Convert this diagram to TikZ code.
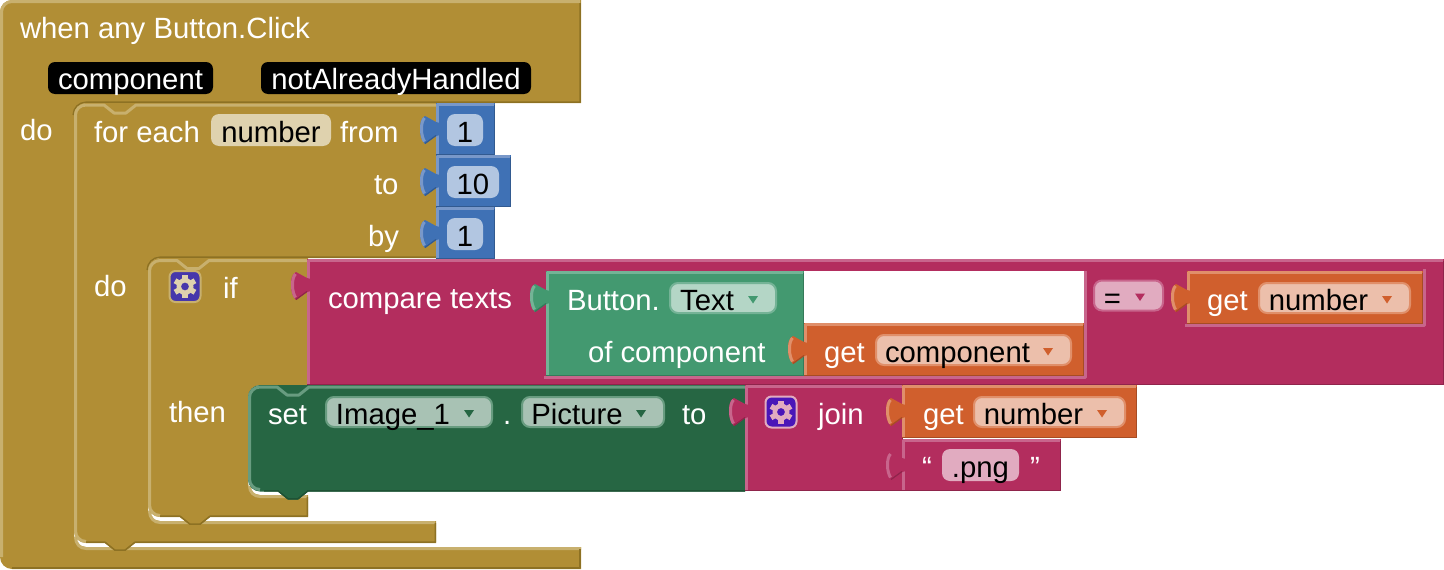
\documentclass[tikz,border=0pt]{standalone}
\usepackage{fontspec}
\setmainfont{Liberation Sans}
\usetikzlibrary{positioning}

\definecolor{goldmain}{HTML}{B18E35}
\definecolor{goldhi}{HTML}{C8B06E}
\definecolor{goldlo}{HTML}{8D7123}
\definecolor{goldfield}{HTML}{DFD2AE}
\definecolor{bluemain}{HTML}{3F71B5}
\definecolor{bluehi}{HTML}{7998C9}
\definecolor{bluelo}{HTML}{325A90}
\definecolor{bluefield}{HTML}{B2C6E1}
\definecolor{pinkmain}{HTML}{B32D5E}
\definecolor{pinkhi}{HTML}{C8658C}
\definecolor{pinklo}{HTML}{8F244B}
\definecolor{pinkfield}{HTML}{E1ABC0}
\definecolor{tealmain}{HTML}{439970}
\definecolor{tealhi}{HTML}{74B396}
\definecolor{teallo}{HTML}{357A59}
\definecolor{tealfield}{HTML}{B4D6C6}
\definecolor{greenmain}{HTML}{266643}
\definecolor{greenhi}{HTML}{689C80}
\definecolor{greenlo}{HTML}{1E5235}
\definecolor{greenfield}{HTML}{A8C2B4}
\definecolor{orangemain}{HTML}{D05F2D}
\definecolor{orangehi}{HTML}{E08F6A}
\definecolor{orangelo}{HTML}{A64C24}
\definecolor{orangefield}{HTML}{ECBFAB}
\definecolor{gearif}{HTML}{4637AB}
\definecolor{gearjoin}{HTML}{4A16B8}

\newcommand{\blockfont}{\fontsize{29.3}{32}\selectfont}
\newcommand{\ddgap}{\rule{32pt}{0pt}}

\tikzset{every node/.style={inner sep=0pt, outer sep=0pt, font=\blockfont},
         lbl/.style={anchor=base west, text=white},   % white words on the blocks
         blockhi/.style={draw=#1hi, line width=3pt, line join=round},
         blocklo/.style={draw=#1lo, line width=1.5pt, line join=round},
         pill/.style={rectangle, rounded corners=8pt, fill=#1field,
           text height=28.7pt, text depth=3.3pt},
         rimpill/.style={rectangle, rounded corners=8pt, fill=#1field, draw=#1hi,
           line width=2pt, text height=27.7pt, text depth=2.3pt},
         blackpill/.style={rectangle, rounded corners=7pt, fill=black, text=white,
           text height=27.8pt, text depth=4.2pt},
         iconbox/.style={rectangle, rounded corners=6pt, minimum size=31pt,
           line width=2pt},
         gearicon/.pic={
           \fill[even odd rule] (0,0) circle (8.5pt) (0,0) circle (4pt);
           \foreach \a in {0,60,...,300}
             \fill[rotate=\a] (-2.7,6) rectangle (2.7,11.5);
         }}

% one square block with its tab on the left: x0, y0, x1, y1, colour
\newcommand{\valblock}[5]{%
  \fill[#5main] (#1,#2) rectangle (#3,#4);
  \draw[blocklo=#5] (#3-0.75,#2+2) -- (#3-0.75,#4-0.75) -- (#1,#4-0.75);
  \draw[blockhi=#5] (#1+1.5,#4-1) -- (#1+1.5,#2+1.5) -- (#3-1,#2+1.5);
  \begin{scope}[shift={(#1,#2)}]
    \fill[#5main] (4,20) -- (0,19) -- (-11,13) .. controls (-15,15) and (-16,20) .. (-16,26)
      .. controls (-16,33) and (-14,38) .. (-11,41) -- (0,33) -- (4,32) -- cycle;
    \draw[#5hi, line width=3pt] (-11.5,15) .. controls (-13.5,17) and (-14.5,21) .. (-14.5,26)
      .. controls (-14.5,32) and (-13,36) .. (-11.5,38.5);
    \draw[#5lo, line width=1.2pt] (-11,40.5) -- (0,32.5);
  \end{scope}}
\newcommand{\ddtri}[2]{\fill[#2main] ([shift={(-28,-2)}]#1.east) -- ++(10,0) -- ++(-5,7.5) -- cycle;}

\begin{document}
\begin{tikzpicture}[x=1pt,y=-1pt]
  \useasboundingbox (0,0) rectangle (1444,570);

  % when any
  \fill[goldmain] (0,12) .. controls (0,5.4) and (5.4,0) .. (12,0) -- (581,0) -- (581,103)
    -- (86,103) .. controls (79.4,103) and (74,108.4) .. (74,115) -- (74,535)
    .. controls (74,541.6) and (79.4,547) .. (86,547) -- (581,547) -- (581,569) -- (12,569)
    .. controls (5.4,569) and (0,563.6) .. (0,557) -- cycle;
  \draw[blockhi=gold] (1.5,557) -- (1.5,12) .. controls (1.5,6.2) and (6.2,1.5) .. (12,1.5) -- (580,1.5);
  \draw[blockhi=gold] (75.5,537) .. controls (75.5,544) and (80,548.5) .. (86,548.5) -- (581,548.5);
  \draw[blocklo=gold] (580.2,3) -- (580.2,102.2) -- (86,102.2)
    .. controls (79,102.2) and (73.2,108) .. (73.2,115);
  \draw[blocklo=gold] (580.2,549) -- (580.2,568.2) -- (12,568.2);

  % for each
  \fill[goldmain] (86,103) -- (436,103) -- (436,258) -- (160,258)
    .. controls (153.4,258) and (148,263.4) .. (148,270) -- (148,509)
    .. controls (148,515.6) and (153.4,521) .. (160,521) -- (436,521) -- (436,543) -- (135,543)
    -- ++(-10,8) -- ++(-10,0) -- ++(-10,-8) -- (86,543)
    .. controls (79.4,543) and (74,537.6) .. (74,531) -- (74,115)
    .. controls (74,108.4) and (79.4,103) .. (86,103) -- cycle;
  \draw[blockhi=gold] (436,105) -- (136,105) -- ++(-10,8) -- ++(-12,0) -- ++(-10,-8) -- (86,105)
    .. controls (80.2,105) and (75.5,109.2) .. (75.5,115) -- (75.5,531)
    .. controls (75.5,536.8) and (80.2,541.5) .. (86,541.5);
  \draw[blockhi=gold] (149.5,511) .. controls (149.5,518) and (154,522.5) .. (160,522.5) -- (435,522.5);
  \draw[blocklo=gold] (435.3,523) -- (435.3,542.2) -- (135,542.2) -- ++(-10,8) -- ++(-10,0) -- ++(-10,-8) -- (86,542.2);
  \draw[blocklo=gold] (436,257.2) -- (160,257.2) .. controls (153,257.2) and (147.2,263) .. (147.2,270);

  % if
  \fill[goldmain] (160,258) -- (308,258) -- (308,385) -- (260,385)
    .. controls (253.4,385) and (248,390.4) .. (248,397) -- (248,483)
    .. controls (248,489.6) and (253.4,495) .. (260,495) -- (308,495) -- (308,517) -- (210,517)
    -- ++(-10,8) -- ++(-10,0) -- ++(-10,-8) -- (160,517)
    .. controls (153.4,517) and (148,511.6) .. (148,505) -- (148,270)
    .. controls (148,263.4) and (153.4,258) .. (160,258) -- cycle;
  \draw[blockhi=gold] (307,260.5) -- (209,260.5) -- ++(-10,8) -- ++(-12,0) -- ++(-10,-8) -- (160,260.5)
    .. controls (154.2,260.5) and (149.5,265.2) .. (149.5,271) -- (149.5,505)
    .. controls (149.5,510.8) and (154.2,515.5) .. (160,515.5);
  \draw[blockhi=gold] (249.5,486) .. controls (249.5,492) and (254,496.5) .. (260,496.5) -- (307,496.5);
  \draw[blocklo=gold] (307.3,497) -- (307.3,516.2) -- (210,516.2) -- ++(-10,8) -- ++(-10,0) -- ++(-10,-8) -- (160,516.2);

  % set
  \fill[greenmain] (260,385) -- (745,385) -- (745,491.5) -- (308,491.5)
    -- ++(-10,8) -- ++(-10,0) -- ++(-10,-8) -- (260,491.5)
    .. controls (253.4,491.5) and (248,486.1) .. (248,479.5) -- (248,397)
    .. controls (248,390.4) and (253.4,385) .. (260,385) -- cycle;
  \draw[blocklo=green] (745,490.8) -- (308,490.8) -- ++(-10,8) -- ++(-10,0) -- ++(-10,-8) -- (264,490.8);
  \draw[blockhi=green] (745,387) -- (309,387) -- ++(-10,8) -- ++(-12,0) -- ++(-10,-8) -- (260,387)
    .. controls (254.2,387) and (249.5,391.7) .. (249.5,397.5) -- (249.5,479)
    .. controls (249.5,484.8) and (254.2,489.5) .. (260,489.5);

  % numbers
  \valblock{436}{103}{495}{155}{blue}
  \valblock{436}{155}{511}{207}{blue}
  \valblock{436}{207}{495}{259}{blue}

  % compare texts and what sits in it
  \valblock{307}{259}{1444}{385}{pink}
  \fill[white] (546,271) rectangle (1084,376);
  \draw[blockhi=pink] (544,377) -- (1085.5,377) -- (1085.5,271);
  \draw[blockhi=pink] (1185,325.5) -- (1424.5,325.5) -- (1424.5,269);
  \valblock{546}{271}{804}{376}{teal}
  \valblock{804}{323}{1084}{376}{orange}
  \valblock{1187}{271}{1423}{324}{orange}

  % join
  \valblock{745}{385}{903}{491}{pink}
  \valblock{902}{385}{1137}{438}{orange}
  \valblock{902}{439}{1061}{491}{pink}

  \node[lbl] (nwhen) at (20,38.5) {when any Button.Click};
  \node[blackpill, minimum width=165pt] (fcomponent) at (130.5,78) {component};
  \node[blackpill, minimum width=270pt] (fhandled) at (396,78) {notAlreadyHandled};
  \node[lbl] (ndo) at (20,140.5) {do};

  \node[lbl] (neach) at (94,142) {for each};
  \node[pill=gold, minimum width=120pt] (fvar) at (271,130) {number};
  \node[lbl, base right=9pt of fvar] (nfrom) {from};
  \node[lbl] (nto) at (374,194) {to};
  \node[lbl] (nby) at (368,246) {by};
  \node[pill=blue, minimum width=36pt] (vfrom) at (465,130) {1};
  \node[pill=blue, minimum width=52pt] (vto) at (473,182) {10};
  \node[pill=blue, minimum width=36pt] (vby) at (465,234) {1};

  \node[lbl] (ndobody) at (94,296) {do};
  \node[iconbox, fill=gearif, draw=goldhi] (gif) at (185,286.5) {};
  \pic[color=goldfield] at (gif) {gearicon};
  \node[lbl] (nif) at (223,298) {if};
  \node[lbl] (nthen) at (169,422) {then};

  \node[lbl] (ncompare) at (328,308) {compare texts};
  \node[lbl] (nbutton) at (567,310) {Button.};
  \node[rimpill=teal, minimum width=106pt] (ftext) at (723,298) {Text\ddgap};
  \ddtri{ftext}{teal}
  \node[lbl] (nofcomp) at (588,362) {of component};
  \node[lbl] (ngetcomp) at (824,362) {get};
  \node[rimpill=orange, minimum width=195pt] (fgetcomp) at (973.5,350) {component\ddgap};
  \ddtri{fgetcomp}{orange}
  \node[rimpill=pink, minimum width=69pt] (fequal) at (1128.5,295.5) {=\ddgap};
  \ddtri{fequal}{pink}
  \node[lbl] (ngetnum) at (1207,310) {get};
  \node[rimpill=orange, minimum width=151pt] (fgetnum) at (1334.5,298) {number\ddgap};
  \ddtri{fgetnum}{orange}

  \node[lbl] (nset) at (268,424) {set};
  \node[rimpill=green, minimum width=166pt] (fimage) at (409,412) {Image\_1\ddgap};
  \ddtri{fimage}{green}
  \node[lbl] (ndot) at (503,424) {.};
  \node[rimpill=green, minimum width=142pt] (fpicture) at (593,412) {Picture\ddgap};
  \ddtri{fpicture}{green}
  \node[lbl] (nsetto) at (682,424) {to};

  \node[iconbox, fill=gearjoin, draw=pinkfield] (gjoin) at (781,412) {};
  \pic[color=pinkfield] at (gjoin) {gearicon};
  \node[lbl] (njoin) at (818,424) {join};
  \node[lbl] (ngetjoin) at (923,424) {get};
  \node[rimpill=orange, minimum width=151pt] (fgetjoin) at (1049.5,412) {number\ddgap};
  \ddtri{fgetjoin}{orange}
  \node[lbl] (nopen) at (922,477) {“};
  \node[pill=pink, minimum width=77pt] (fpng) at (980.5,465) {.png};
  \node[lbl] (nclose) at (1030,477) {”};
\end{tikzpicture}
\end{document}
